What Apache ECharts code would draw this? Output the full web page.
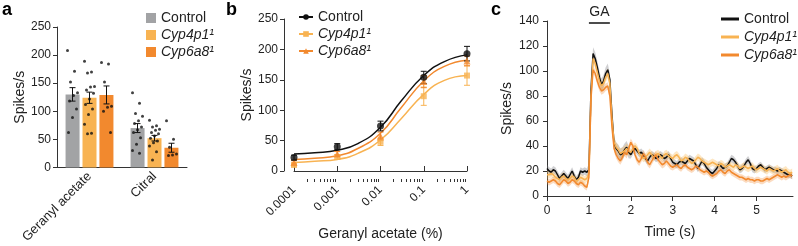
<!DOCTYPE html>
<html>
<head>
<meta charset="utf-8">
<script src="https://cdn.jsdelivr.net/npm/echarts@6/dist/echarts.min.js"></script>
<style>
  html, body { margin: 0; background: #fff; }
  #chart { width: 798px; height: 246px; }
</style>
</head>
<body>
<div id="chart"></div>
<script>
// panel a: mean response per odorant
const categoriesA = ["Geranyl acetate", "Citral"];
const meanControlA = [130, 70];
const semControlA = [12, 8];
const meanCyp4p1A = [124, 52];
const semCyp4p1A = [10, 5];
const meanCyp6a8A = [129, 35];
const semCyp6a8A = [16, 8];
// individual sensilla
const dotsControlA = [
  [208, 171, 152, 133, 128, 118, 104, 89, 62],
  [133, 114, 96, 91, 83, 78, 72, 67, 62, 53, 41, 30, 25],
];
const dotsCyp4p1A = [
  [189, 170, 168, 144, 143, 138, 132, 122, 112, 104, 94, 77, 61, 60],
  [84, 74, 72, 68, 66, 62, 60, 56, 52, 47, 44, 38, 28, 13],
];
const dotsCyp6a8A = [
  [187, 184, 152, 109, 107, 100, 62],
  [83, 50, 36, 24, 22, 21],
];

// panel b: dose response
const concB = [0.0001, 0.001, 0.01, 0.1, 1];
const concLabelsB = ["0.0001", "0.001", "0.01", "0.1", "1"];
const controlB = [22, 40, 74, 154, 193];
const controlSemB = [4, 5, 8, 10, 12];
const cyp4p1B = [10, 23, 48, 123, 157];
const cyp4p1SemB = [3, 4, 6, 15, 16];
const cyp6a8B = [14, 28, 57, 147, 181];
const cyp6a8SemB = [3, 4, 7, 10, 8];
// fitted curves
const fitXB = [0.0001, 0.0003, 0.001, 0.003, 0.01, 0.03, 0.1, 0.3, 1];
const controlFitB = [28, 30, 34, 45, 72, 115, 157, 180, 191];
const cyp4p1FitB = [14, 16, 19, 29, 51, 86, 126, 149, 157];
const cyp6a8FitB = [19, 21, 25, 37, 62, 104, 148, 172, 182];

// panel c: PSTH, 50 ms bins
const timeC = Array.from({ length: 118 }, (_, i) => +(i * 0.05).toFixed(2));
const timeTicksC = [0, 1, 2, 3, 4, 5];
const stimulusC = [1, 1.5];
const controlC = [
  22, 20, 19, 21, 20, 17, 14, 16, 18, 16, 14, 17, 20, 16, 13, 15, 20, 19, 20, 19,
  21, 85, 114, 110, 103, 95, 89, 92, 98, 101, 93, 65, 42, 38, 36, 33, 34, 37, 39, 35,
  33, 36, 38, 36, 34, 35, 33, 30, 28, 31, 33, 32, 30, 31, 33, 32, 30, 31, 33, 30,
  27, 26, 25, 27, 28, 27, 26, 28, 30, 29, 28, 25, 22, 25, 28, 26, 23, 21, 19, 18,
  20, 22, 25, 24, 22, 23, 24, 27, 30, 29, 27, 24, 21, 22, 24, 27, 29, 26, 22, 21,
  22, 24, 25, 23, 21, 22, 23, 22, 21, 21, 20, 21, 20, 19, 18, 17, 17, 16,
];
const cyp4p1C = [
  17, 17, 18, 17, 15, 14, 13, 15, 16, 14, 13, 14, 16, 15, 12, 13, 15, 14, 13, 14,
  18, 80, 110, 106, 99, 92, 88, 90, 95, 98, 90, 62, 43, 39, 37, 34, 35, 36, 38, 36,
  35, 38, 40, 38, 34, 32, 30, 31, 33, 35, 33, 31, 33, 34, 32, 30, 33, 34, 32, 31,
  30, 32, 33, 31, 28, 29, 31, 30, 28, 26, 27, 29, 31, 30, 28, 27, 26, 25, 26, 27,
  26, 25, 24, 26, 25, 23, 24, 25, 24, 23, 25, 24, 22, 23, 24, 23, 22, 23, 24, 22,
  21, 22, 23, 22, 21, 20, 22, 21, 20, 21, 22, 20, 19, 20, 21, 19, 18, 19,
];
const cyp6a8C = [
  12, 11, 12, 13, 12, 10, 9, 11, 13, 12, 10, 11, 13, 12, 10, 9, 11, 10, 8, 7,
  15, 78, 101, 98, 92, 87, 84, 85, 87, 88, 80, 55, 38, 33, 30, 28, 31, 35, 33, 38,
  43, 40, 33, 29, 27, 30, 34, 31, 27, 25, 28, 31, 33, 29, 27, 25, 26, 28, 26, 24,
  23, 24, 25, 23, 22, 24, 25, 23, 22, 21, 22, 24, 23, 21, 20, 19, 20, 19, 17, 16,
  17, 18, 20, 21, 19, 18, 20, 21, 19, 18, 17, 16, 15, 15, 14, 13, 14, 13, 13, 12,
  13, 13, 12, 12, 13, 14, 13, 14, 15, 16, 17, 16, 15, 16, 15, 16, 17, 16,
];
// SEM per 1 s block
const controlSemC = [3, 5, 3, 3, 3, 2.5];
const cyp4p1SemC = [3, 4, 3, 3, 3, 3];
const cyp6a8SemC = [2.5, 3, 3, 2.5, 2.5, 2.5];

const FONT = "Liberation Sans, Arial, sans-serif";
const GRAY = "#a2a3a5";
const LIGHT = "#f8b352";
const ORANGE = "#f2892e";
const BLACK = "#111";
const AXIS = "#333";
const TXT = "#222";

const chart = echarts.init(document.getElementById("chart"));

function errorBar(offset, color, cap) {
  return function (params, api) {
    const x = api.value(0);
    const lo = api.coord([x, api.value(1)]);
    const hi = api.coord([x, api.value(2)]);
    const cx = lo[0] + offset;
    const style = { stroke: color, lineWidth: 1 };
    return {
      type: "group",
      children: [
        { type: "line", shape: { x1: cx, y1: lo[1], x2: cx, y2: hi[1] }, style: style },
        { type: "line", shape: { x1: cx - cap, y1: hi[1], x2: cx + cap, y2: hi[1] }, style: style },
        { type: "line", shape: { x1: cx - cap, y1: lo[1], x2: cx + cap, y2: lo[1] }, style: style },
      ],
    };
  };
}

function errData(xs, mean, sem) {
  return xs.map((x, i) => [x, mean[i] - sem[i], mean[i] + sem[i]]);
}

function dotItems(lists, offset) {
  const out = [];
  lists.forEach((vals, ci) => {
    vals.forEach((v, k) => {
      out.push({ value: [ci, v], symbolOffset: [offset + ((k * 7) % 11) - 5, 0] });
    });
  });
  return out;
}

function pairs(xs, ys) {
  return xs.map((x, i) => [x, ys[i]]);
}

// SEM band drawn as one polygon from the first item
function bandSeries(values, semBlocks, color) {
  const data = timeC.map((t, i) => {
    const s = semBlocks[Math.min(5, Math.floor(t))];
    return [t, values[i] - s, values[i] + s];
  });
  return {
    type: "custom",
    xAxisIndex: 3,
    yAxisIndex: 2,
    data: data,
    encode: { x: 0, y: [1, 2] },
    silent: true,
    z: 1,
    renderItem: function (params, api) {
      if (params.dataIndexInside !== 0) return null;
      const top = [];
      const bottom = [];
      for (let i = 0; i < params.dataInsideLength; i++) {
        top.push(api.coord([api.value(0, i), api.value(2, i)]));
        bottom.push(api.coord([api.value(0, i), api.value(1, i)]));
      }
      return { type: "polygon", shape: { points: top.concat(bottom.reverse()) }, style: { fill: color } };
    },
  };
}

const minorTicksB = [];
for (let e = -4; e < 0; e++) {
  for (let k = 2; k <= 9; k++) minorTicksB.push(+(k * Math.pow(10, e)).toPrecision(2));
}

const axisLine = { show: true, lineStyle: { color: AXIS, width: 1 } };
const axisLabel = { color: TXT, fontSize: 12, fontFamily: FONT };
const nameStyle = { color: TXT, fontSize: 14, fontFamily: FONT };
const italic = { fontStyle: "italic" };

function legendData(prefix) {
  return [
    { name: prefix + "Control" },
    { name: prefix + "Cyp4p1\u00b9", textStyle: italic },
    { name: prefix + "Cyp6a8\u00b9", textStyle: italic },
  ];
}

const option = {
  animation: false,
  textStyle: { fontFamily: FONT },
  graphic: [
    { type: "text", left: 2, top: 1, style: { text: "a", font: "bold 18px " + FONT, fill: "#000" } },
    { type: "text", left: 226, top: 1, style: { text: "b", font: "bold 18px " + FONT, fill: "#000" } },
    { type: "text", left: 491, top: 1, style: { text: "c", font: "bold 18px " + FONT, fill: "#000" } },
  ],
  legend: [
    {
      data: legendData("a:"),
      left: 141,
      top: 6,
      orient: "vertical",
      icon: "rect",
      itemWidth: 10,
      itemHeight: 10,
      itemGap: 3,
      selectedMode: false,
      formatter: (n) => n.slice(2),
      textStyle: { color: TXT, fontSize: 14, fontFamily: FONT },
    },
    {
      data: legendData("b:"),
      left: 293,
      top: 5,
      orient: "vertical",
      itemWidth: 14,
      itemHeight: 7,
      itemGap: 3,
      selectedMode: false,
      formatter: (n) => n.slice(2),
      textStyle: { color: TXT, fontSize: 14, fontFamily: FONT },
    },
    {
      data: legendData("c:"),
      left: 716,
      top: 7,
      orient: "vertical",
      icon: "rect",
      itemWidth: 18,
      itemHeight: 3,
      itemGap: 4,
      selectedMode: false,
      formatter: (n) => n.slice(2),
      textStyle: { color: TXT, fontSize: 14, fontFamily: FONT },
    },
  ],
  grid: [
    { left: 57, top: 27, width: 130, height: 145 },
    { left: 294, top: 19, width: 173, height: 153 },
    { left: 547, top: 21, width: 246, height: 175 },
  ],
  xAxis: [
    {
      type: "category",
      gridIndex: 0,
      data: categoriesA,
      axisLine: axisLine,
      axisTick: { alignWithLabel: true, length: 4, lineStyle: { color: AXIS } },
      axisLabel: Object.assign({}, axisLabel, { rotate: 45, margin: 7, fontSize: 13, interval: 0 }),
    },
    {
      type: "log",
      gridIndex: 1,
      position: "bottom",
      min: 0.0001,
      max: 1,
      offset: 11,
      axisLine: axisLine,
      splitLine: { show: false },
      axisTick: { customValues: concB, length: 5, inside: true, lineStyle: { color: AXIS } },
      axisLabel: Object.assign({}, axisLabel, {
        customValues: concB,
        rotate: 45,
        margin: 6,
        formatter: (v, i) => concLabelsB[concB.indexOf(v)] || concLabelsB[i],
      }),
      name: "Geranyl acetate (%)",
      nameLocation: "middle",
      nameGap: 45,
      nameTextStyle: nameStyle,
    },
    {
      type: "log",
      gridIndex: 1,
      position: "bottom",
      min: 0.0001,
      max: 1,
      offset: 11,
      axisLine: { show: false },
      splitLine: { show: false },
      axisTick: { customValues: minorTicksB, length: 3, inside: true, lineStyle: { color: AXIS } },
      axisLabel: { show: false },
    },
    {
      type: "value",
      gridIndex: 2,
      min: 0,
      max: 5.87,
      axisLine: axisLine,
      splitLine: { show: false },
      axisTick: { customValues: timeTicksC, length: 5, lineStyle: { color: AXIS } },
      axisLabel: Object.assign({}, axisLabel, { customValues: timeTicksC, margin: 9 }),
      name: "Time (s)",
      nameLocation: "middle",
      nameGap: 29,
      nameTextStyle: nameStyle,
    },
  ],
  yAxis: [
    {
      type: "value",
      gridIndex: 0,
      min: 0,
      max: 250,
      interval: 50,
      axisLine: axisLine,
      axisTick: { show: true, length: 4, lineStyle: { color: AXIS } },
      splitLine: { show: false },
      axisLabel: Object.assign({}, axisLabel, { margin: 6 }),
      name: "Spikes/s",
      nameLocation: "middle",
      nameGap: 29,
      nameTextStyle: nameStyle,
    },
    {
      type: "value",
      gridIndex: 1,
      min: 0,
      max: 250,
      interval: 50,
      offset: 10,
      axisLine: axisLine,
      axisTick: { show: true, length: 4, lineStyle: { color: AXIS } },
      splitLine: { show: false },
      axisLabel: Object.assign({}, axisLabel, { margin: 6 }),
      name: "Spikes/s",
      nameLocation: "middle",
      nameGap: 28,
      nameTextStyle: nameStyle,
    },
    {
      type: "value",
      gridIndex: 2,
      min: 0,
      max: 140,
      interval: 20,
      axisLine: axisLine,
      axisTick: { show: true, length: 4, lineStyle: { color: AXIS } },
      splitLine: { show: false },
      axisLabel: Object.assign({}, axisLabel, { margin: 8 }),
      name: "Spikes/s",
      nameLocation: "middle",
      nameGap: 33,
      nameTextStyle: nameStyle,
    },
  ],
  series: [
    // ---- a ----
    { name: "a:Control", type: "bar", data: meanControlA, barWidth: 14, barGap: "21%", itemStyle: { color: GRAY }, z: 2 },
    { name: "a:Cyp4p1\u00b9", type: "bar", data: meanCyp4p1A, barWidth: 14, barGap: "21%", itemStyle: { color: LIGHT }, z: 2 },
    { name: "a:Cyp6a8\u00b9", type: "bar", data: meanCyp6a8A, barWidth: 14, barGap: "21%", itemStyle: { color: ORANGE }, z: 2 },
    { type: "custom", renderItem: errorBar(-17, BLACK, 3), data: errData([0, 1], meanControlA, semControlA), encode: { x: 0, y: [1, 2] }, z: 3, silent: true },
    { type: "custom", renderItem: errorBar(0, BLACK, 3), data: errData([0, 1], meanCyp4p1A, semCyp4p1A), encode: { x: 0, y: [1, 2] }, z: 3, silent: true },
    { type: "custom", renderItem: errorBar(17, BLACK, 3), data: errData([0, 1], meanCyp6a8A, semCyp6a8A), encode: { x: 0, y: [1, 2] }, z: 3, silent: true },
    { type: "scatter", data: dotItems(dotsControlA, -17), symbolSize: 3, itemStyle: { color: BLACK }, z: 4, silent: true },
    { type: "scatter", data: dotItems(dotsCyp4p1A, 0), symbolSize: 3, itemStyle: { color: BLACK }, z: 4, silent: true },
    { type: "scatter", data: dotItems(dotsCyp6a8A, 17), symbolSize: 3, itemStyle: { color: BLACK }, z: 4, silent: true },

    // ---- b ----
    { name: "b:Control", type: "line", xAxisIndex: 1, yAxisIndex: 1, data: pairs(fitXB, controlFitB), smooth: true, showSymbol: false, symbol: "circle", symbolSize: 7, lineStyle: { color: BLACK, width: 1.5 }, itemStyle: { color: BLACK }, z: 3 },
    { name: "b:Cyp4p1\u00b9", type: "line", xAxisIndex: 1, yAxisIndex: 1, data: pairs(fitXB, cyp4p1FitB), smooth: true, showSymbol: false, symbol: "rect", symbolSize: 6, lineStyle: { color: LIGHT, width: 1.5 }, itemStyle: { color: LIGHT }, z: 3 },
    { name: "b:Cyp6a8\u00b9", type: "line", xAxisIndex: 1, yAxisIndex: 1, data: pairs(fitXB, cyp6a8FitB), smooth: true, showSymbol: false, symbol: "triangle", symbolSize: 7, lineStyle: { color: ORANGE, width: 1.5 }, itemStyle: { color: ORANGE }, z: 3 },
    { type: "custom", xAxisIndex: 1, yAxisIndex: 1, renderItem: errorBar(0, LIGHT, 3), data: errData(concB, cyp4p1B, cyp4p1SemB), encode: { x: 0, y: [1, 2] }, z: 4, silent: true },
    { type: "custom", xAxisIndex: 1, yAxisIndex: 1, renderItem: errorBar(0, ORANGE, 3), data: errData(concB, cyp6a8B, cyp6a8SemB), encode: { x: 0, y: [1, 2] }, z: 4, silent: true },
    { type: "custom", xAxisIndex: 1, yAxisIndex: 1, renderItem: errorBar(0, BLACK, 3), data: errData(concB, controlB, controlSemB), encode: { x: 0, y: [1, 2] }, z: 4, silent: true },
    { type: "scatter", xAxisIndex: 1, yAxisIndex: 1, data: pairs(concB, cyp4p1B), symbol: "rect", symbolSize: 6, itemStyle: { color: LIGHT }, z: 5, silent: true },
    { type: "scatter", xAxisIndex: 1, yAxisIndex: 1, data: pairs(concB, cyp6a8B), symbol: "triangle", symbolSize: 7, itemStyle: { color: ORANGE }, z: 5, silent: true },
    { type: "scatter", xAxisIndex: 1, yAxisIndex: 1, data: pairs(concB, controlB), symbol: "circle", symbolSize: 7, itemStyle: { color: BLACK }, z: 6, silent: true },

    // ---- c ----
    bandSeries(controlC, controlSemC, "rgba(120,120,125,0.35)"),
    bandSeries(cyp4p1C, cyp4p1SemC, "rgba(250,185,90,0.35)"),
    bandSeries(cyp6a8C, cyp6a8SemC, "rgba(242,137,46,0.3)"),
    { name: "c:Control", type: "line", xAxisIndex: 3, yAxisIndex: 2, data: pairs(timeC, controlC), symbol: "none", lineStyle: { color: BLACK, width: 1.5 }, itemStyle: { color: BLACK }, z: 3 },
    { name: "c:Cyp4p1\u00b9", type: "line", xAxisIndex: 3, yAxisIndex: 2, data: pairs(timeC, cyp4p1C), symbol: "none", lineStyle: { color: LIGHT, width: 1.5 }, itemStyle: { color: LIGHT }, z: 3 },
    { name: "c:Cyp6a8\u00b9", type: "line", xAxisIndex: 3, yAxisIndex: 2, data: pairs(timeC, cyp6a8C), symbol: "none", lineStyle: { color: ORANGE, width: 1.5 }, itemStyle: { color: ORANGE }, z: 3 },
    {
      // odor stimulus bar
      type: "custom",
      xAxisIndex: 3,
      yAxisIndex: 2,
      data: [stimulusC],
      encode: { x: [0, 1] },
      silent: true,
      clip: false,
      renderItem: function (params, api) {
        const p0 = api.coord([api.value(0), 140]);
        const p1 = api.coord([api.value(1), 140]);
        const y = p0[1] + 2;
        return {
          type: "group",
          children: [
            { type: "line", shape: { x1: p0[0], y1: y, x2: p1[0], y2: y }, style: { stroke: BLACK, lineWidth: 1.5 } },
            { type: "text", x: (p0[0] + p1[0]) / 2, y: y - 4, style: { text: "GA", fill: TXT, font: "14px " + FONT, align: "center", verticalAlign: "bottom" } },
          ],
        };
      },
    },
  ],
};

chart.setOption(option);
</script>
</body>
</html>
